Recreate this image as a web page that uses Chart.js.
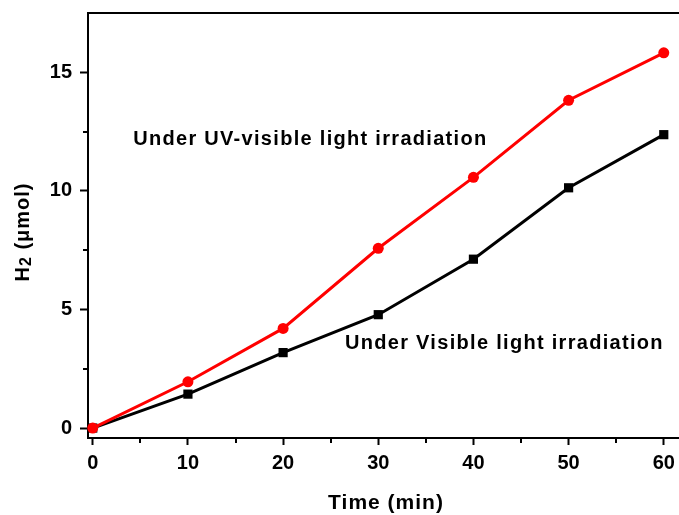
<!DOCTYPE html>
<html>

<head>
  <title>H2 evolution</title>
  <script src="https://cdn.jsdelivr.net/npm/chart.js"></script>
  <style>
    body { margin: 0; background: #fff; }
  </style>
</head>

<body>
  <canvas id="h2-chart" width="679" height="515"></canvas>

  <script>
    // data
    const times = [0, 10, 20, 30, 40, 50, 60];
    const uvVisible = [0, 1.95, 4.2, 7.58, 10.57, 13.82, 15.82];
    const visible = [0, 1.43, 3.18, 4.78, 7.12, 10.13, 12.37];

    const xMajor = [0, 10, 20, 30, 40, 50, 60];
    const xMinor = [5, 15, 25, 35, 45, 55];
    const yMajor = [0, 5, 10, 15];
    const yMinor = [2.5, 7.5, 12.5];

    // labels placed in data coordinates: [x, y, text]
    const notes = [
      [4.25, 12.15, 'Under UV-visible light irradiation'],
      [26.5, 3.55, 'Under Visible light irradiation']
    ];

    const FONT = "'Liberation Sans', Arial, sans-serif";

    const decorPlugin = {
      id: 'decor',
      afterDraw(chart) {
        const ctx = chart.ctx;
        const area = chart.chartArea;
        const xs = chart.scales.x;
        const ys = chart.scales.y;
        ctx.save();
        ctx.strokeStyle = '#000';
        ctx.lineWidth = 2;

        // top frame line
        ctx.beginPath();
        ctx.moveTo(area.left - 1, area.top);
        ctx.lineTo(area.right, area.top);
        ctx.stroke();

        // minor ticks
        ctx.beginPath();
        xMinor.forEach(v => {
          const px = Math.round(xs.getPixelForValue(v));
          ctx.moveTo(px, area.bottom);
          ctx.lineTo(px, area.bottom + 5);
        });
        yMinor.forEach(v => {
          const py = Math.round(ys.getPixelForValue(v));
          ctx.moveTo(area.left, py);
          ctx.lineTo(area.left - 5, py);
        });
        ctx.stroke();

        // notes
        ctx.fillStyle = '#000';
        ctx.font = 'bold 20px ' + FONT;
        ctx.letterSpacing = '1.3px';
        ctx.textAlign = 'left';
        ctx.textBaseline = 'middle';
        notes.forEach(n => {
          ctx.fillText(n[2], xs.getPixelForValue(n[0]), ys.getPixelForValue(n[1]));
        });

        // x title
        ctx.font = 'bold 21px ' + FONT;
        ctx.letterSpacing = '1px';
        ctx.textAlign = 'center';
        ctx.fillText('Time (min)', 386, 503);

        // y title with subscript
        ctx.translate(29, 232);
        ctx.rotate(-Math.PI / 2);
        ctx.textAlign = 'left';
        ctx.textBaseline = 'alphabetic';
        ctx.font = 'bold 20px ' + FONT;
        const w1 = ctx.measureText('H').width;
        ctx.font = 'bold 16px ' + FONT;
        const w2 = ctx.measureText('2').width;
        ctx.font = 'bold 20px ' + FONT;
        const w3 = ctx.measureText(' (\u03bcmol)').width;
        let x0 = -(w1 + w2 + w3) / 2;
        ctx.fillText('H', x0, 0);
        ctx.font = 'bold 16px ' + FONT;
        ctx.fillText('2', x0 + w1, 2);
        ctx.font = 'bold 20px ' + FONT;
        ctx.fillText(' (\u03bcmol)', x0 + w1 + w2, 0);
        ctx.restore();
      }
    };

    const ctx = document.getElementById('h2-chart').getContext('2d');

    const h2Chart = new Chart(ctx, {
      type: 'line',
      data: {
        labels: times,
        datasets: [{
          label: 'Under UV-visible light irradiation',
          data: times.map((t, i) => ({ x: t, y: uvVisible[i] })),
          borderColor: '#ff0000',
          backgroundColor: '#ff0000',
          borderWidth: 3,
          pointStyle: 'circle',
          pointRadius: 5.5,
          pointBorderWidth: 0,
          tension: 0,
          clip: false
        }, {
          label: 'Under Visible light irradiation',
          data: times.map((t, i) => ({ x: t, y: visible[i] })),
          borderColor: '#000000',
          backgroundColor: '#000000',
          borderWidth: 3,
          pointStyle: 'rect',
          pointRadius: 6.5,
          pointBorderWidth: 0,
          tension: 0,
          clip: false
        }]
      },
      options: {
        responsive: false,
        animation: false,
        devicePixelRatio: 1,
        layout: {
          autoPadding: false,
          padding: { top: 13, right: 0, left: 0, bottom: 0 }
        },
        plugins: {
          legend: { display: false },
          tooltip: { enabled: false }
        },
        scales: {
          x: {
            type: 'linear',
            position: 'bottom',
            min: -0.5,
            max: 61.6,
            afterFit: scale => {
              scale.height = 77;
              scale.paddingLeft = 0;
              scale.paddingRight = 0;
            },
            afterBuildTicks: scale => { scale.ticks = xMajor.map(v => ({ value: v })); },
            grid: {
              drawOnChartArea: false,
              tickLength: 7,
              tickWidth: 2,
              tickColor: '#000'
            },
            border: { color: '#000', width: 2 },
            ticks: {
              color: '#000',
              font: { family: FONT, size: 20, weight: 'bold' },
              padding: 6,
              maxRotation: 0,
              autoSkip: false
            }
          },
          y: {
            min: -0.42,
            max: 17.5,
            afterFit: scale => {
              scale.width = 88;
              scale.paddingTop = 0;
              scale.paddingBottom = 0;
            },
            afterBuildTicks: scale => { scale.ticks = yMajor.map(v => ({ value: v })); },
            grid: {
              drawOnChartArea: false,
              tickLength: 8,
              tickWidth: 2,
              tickColor: '#000'
            },
            border: { color: '#000', width: 2 },
            ticks: {
              color: '#000',
              font: { family: FONT, size: 20, weight: 'bold' },
              padding: 8
            }
          }
        }
      },
      plugins: [decorPlugin]
    });
  </script>
</body>

</html>
